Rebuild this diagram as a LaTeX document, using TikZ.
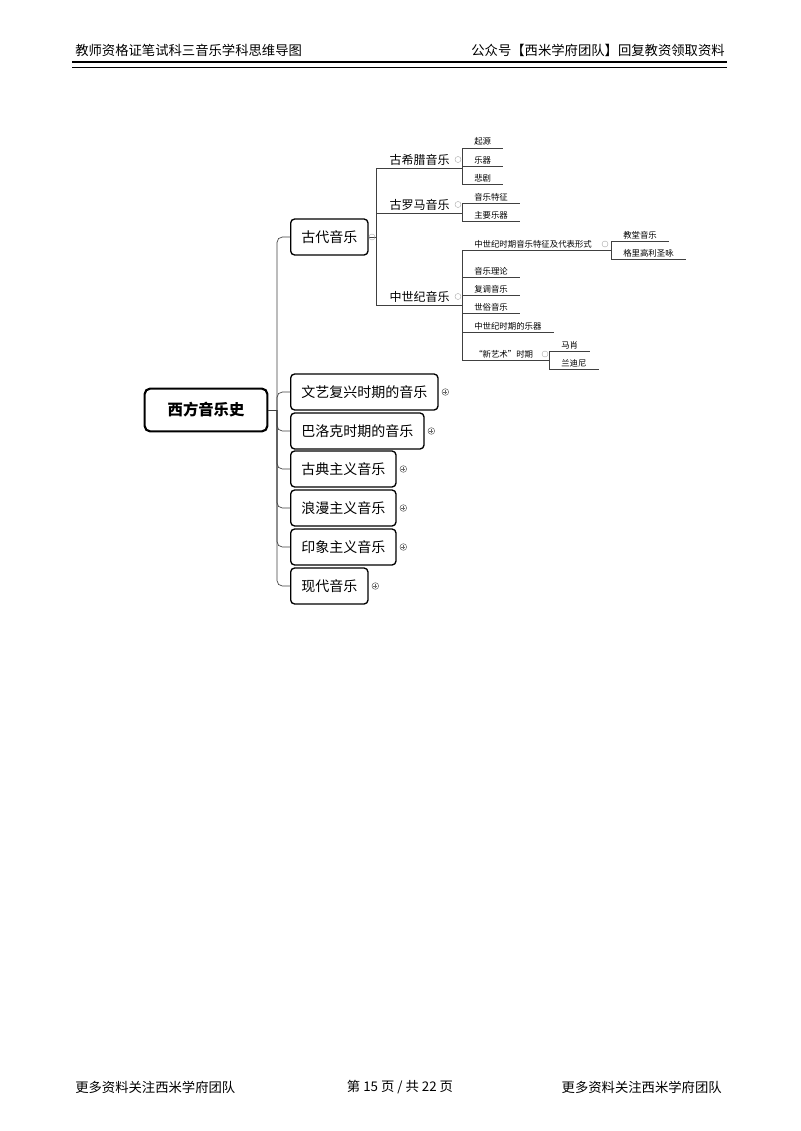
\documentclass[tikz,border=0pt]{standalone}
\usepackage{fontspec}
\setmainfont{Noto Sans CJK SC}
\newfontfamily\cjk{Noto Sans CJK SC}
\begin{document}
\begin{tikzpicture}[x=0.75pt,y=-0.75pt,
  ln/.style={line width=0.5pt, color=black!75},
  mainbox/.style={draw, rounded corners=3pt, line width=1pt, minimum height=27pt, inner xsep=8pt, font=\fontsize{10.5}{12}\selectfont, anchor=west},
  rootbox/.style={draw, rounded corners=4pt, line width=1.6pt, minimum height=32pt, minimum width=92pt, font=\bfseries\fontsize{11.5}{13}\selectfont},
  sec/.style={anchor=south west, inner xsep=10pt, inner ysep=2pt, font=\fontsize{9}{10}\selectfont},
  leaf/.style={anchor=south west, inner xsep=9pt, inner ysep=1.5pt, font=\fontsize{6.3}{7}\selectfont},
  plusc/.style={draw, circle, inner sep=0pt, minimum size=5pt, line width=0.4pt, color=black!60},
  minc/.style={draw, circle, inner sep=0pt, minimum size=4.5pt, line width=0.3pt, color=black!35},
  hdr/.style={font=\fontsize{10}{12}\selectfont, inner sep=0pt}]
\useasboundingbox (0,0) rectangle (800,1131);
% header/footer
\node[hdr, anchor=west] (h1) at (75,50) {教师资格证笔试科三音乐学科思维导图};
\node[hdr, anchor=east] (h2) at (725,50) {公众号【西米学府团队】回复教资领取资料};
\draw[line width=2pt] (72,62) -- (727,62);
\draw[line width=0.6pt] (72,67) -- (727,67);
\node[hdr, anchor=west] (f1) at (75,1087) {更多资料关注西米学府团队};
\node[hdr] (f2) at (400,1087) {第 15 页 / 共 22 页};
\node[hdr, anchor=east] (f3) at (722,1087) {更多资料关注西米学府团队};
% root and main
\node[rootbox] (root) at (206,410) {西方音乐史};
\coordinate (hub) at (277,410);
\node[mainbox] (m1) at (290,237) {古代音乐};
\node[mainbox] (m2) at (290,392) {文艺复兴时期的音乐};
\node[mainbox] (m3) at (290,431) {巴洛克时期的音乐};
\node[mainbox] (m4) at (290,469) {古典主义音乐};
\node[mainbox] (m5) at (290,508) {浪漫主义音乐};
\node[mainbox] (m6) at (290,547) {印象主义音乐};
\node[mainbox] (m7) at (290,586) {现代音乐};
\draw[ln] (root.east) -- (hub);
\foreach \m in {m1,m2,m3,m4,m5,m6,m7}{\draw[ln, rounded corners=4pt] (hub) |- (\m.west);}
\foreach \m in {m2,m3,m4,m5,m6,m7}{\node[plusc] (p\m) at ([xshift=5pt]\m.east) {}; \draw[line width=0.4pt,black!60] ([xshift=-1.5pt]p\m.center) -- ([xshift=1.5pt]p\m.center) ([yshift=-1.5pt]p\m.center) -- ([yshift=1.5pt]p\m.center);}
% level 2
\coordinate (v1) at (376,237);
\node[sec] (s1) at (376,168) {古希腊音乐};
\node[sec] (s2) at (376,213) {古罗马音乐};
\node[sec] (s3) at (376,305) {中世纪音乐};
\draw[ln] (m1.east) -- (v1);
\node[minc] (mm1) at (372,237) {};
\draw[ln, rounded corners=4pt] (s1.south west) -- (v1 |- s3.south);
\foreach \s in {s1,s2,s3}{\draw[ln] (\s.south west) -- (462,0 |- \s.south); \node[minc] at (458,0 |- \s.center) {};}
% leaves of s1
\node[leaf] (a1) at (462,148) {起源};
\node[leaf] (a2) at (462,166) {乐器};
\node[leaf] (a3) at (462,184) {悲剧};
\draw[ln, rounded corners=3pt] (a1.south west) -- (a3.south west);
% s2
\node[leaf] (b1) at (462,203) {音乐特征};
\node[leaf] (b2) at (462,221) {主要乐器};
\draw[ln] (b1.south west) -- (b2.south west);
% s3
\node[leaf] (c1) at (462,250) {中世纪时期音乐特征及代表形式};
\node[leaf] (c2) at (462,277) {音乐理论};
\node[leaf] (c3) at (462,295) {复调音乐};
\node[leaf] (c4) at (462,313) {世俗音乐};
\node[leaf] (c5) at (462,332) {中世纪时期的乐器};
\node[leaf] (c6) at (462,360) {“新艺术”时期};
\draw[ln] (c1.south west) -- (c6.south west);
% sub leaves
\node[leaf] (d1) at (611,241) {教堂音乐};
\node[leaf] (d2) at (611,259) {格里高利圣咏};
\draw[ln] (c1.south east) -- (611,250);
\node[minc] at (605,244) {};
\draw[ln] (d1.south west) -- (d2.south west);
\node[leaf] (e1) at (549,351) {马肖};
\node[leaf] (e2) at (549,369) {兰迪尼};
\draw[ln] (c6.south east) -- (549,360);
\node[minc] at (545,354) {};
\draw[ln] (e1.south west) -- (e2.south west);
% underlines of leaves
\foreach \l in {a1,a2,a3,b1,b2,c1,c2,c3,c4,c5,c6,d1,d2,e1,e2}{\draw[ln] (\l.south west) -- (\l.south east);}
\end{tikzpicture}
\end{document}
